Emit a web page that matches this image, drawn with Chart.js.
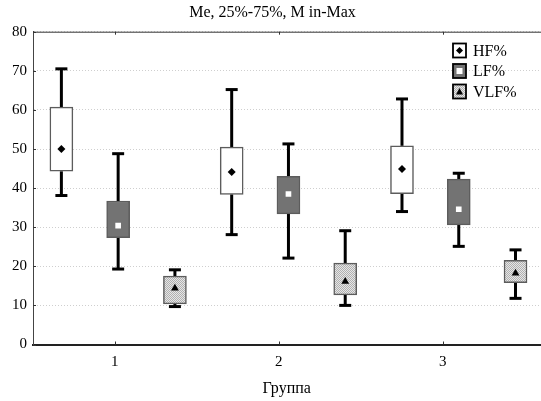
<!DOCTYPE html>
<html>
<head>
<meta charset="utf-8">
<script src="https://cdn.jsdelivr.net/npm/chart.js@4.4.1/dist/chart.umd.min.js"></script>
<style>
  html, body { margin: 0; padding: 0; background: #fff; overflow: hidden; }
  #box { width: 541px; height: 401px; overflow: hidden; }
</style>
</head>
<body>
<div id="box"><canvas id="c" width="545" height="401"></canvas></div>
<script>
// groups on the x axis and the three series
const groups = ['1', '2', '3'];
const seriesNames = ['HF%', 'LF%', 'VLF%'];

// Me, quartiles and range, one value per group
const hfMin = [38.1, 28.1, 34.0];
const hfQ1  = [44.3, 38.4, 38.6];
const hfMed = [50.0, 44.1, 44.9];
const hfQ3  = [60.7, 50.5, 50.8];
const hfMax = [70.5, 65.2, 62.8];

const lfMin = [19.3, 22.1, 25.1];
const lfQ1  = [27.3, 33.4, 30.6];
const lfMed = [30.4, 38.5, 34.6];
const lfQ3  = [36.7, 43.0, 42.3];
const lfMax = [48.8, 51.3, 43.8];

const vlfMin = [9.7, 10.0, 11.8];
const vlfQ1  = [10.4, 12.7, 15.8];
const vlfMed = [14.4, 16.1, 18.2];
const vlfQ3  = [17.5, 20.8, 21.5];
const vlfMax = [19.1, 29.1, 24.2];

const yTicks = [0, 10, 20, 30, 40, 50, 60, 70, 80];

const FONT = "'Liberation Serif', 'DejaVu Serif', serif";
const canvas = document.getElementById('c');
const ctx0 = canvas.getContext('2d');

// speckled light grey fill used by VLF%
function speckle() {
  const p = document.createElement('canvas');
  p.width = 2; p.height = 2;
  const g = p.getContext('2d');
  g.fillStyle = '#e6e6e6'; g.fillRect(0, 0, 2, 2);
  g.fillStyle = '#b0b0b0'; g.fillRect(0, 0, 1, 1); g.fillRect(1, 1, 1, 1);
  return ctx0.createPattern(p, 'repeat');
}

const stats = [
  { min: hfMin, q1: hfQ1, med: hfMed, q3: hfQ3, max: hfMax, fill: '#ffffff', marker: 'rectRot', markerColor: '#000', radius: 4 },
  { min: lfMin, q1: lfQ1, med: lfMed, q3: lfQ3, max: lfMax, fill: '#737373', marker: 'rect', markerColor: '#fff', radius: 4 },
  { min: vlfMin, q1: vlfQ1, med: vlfMed, q3: vlfQ3, max: vlfMax, fill: speckle(), marker: 'triangle', markerColor: '#000', radius: 4.5 }
];

// each box gets its own slot along x
const slotOf = (g, s) => g * stats.length + s + 0.5;
const groupTickSlots = [1.44, 4.33, 7.22];

const boxSets = stats.map((st, s) => ({
  type: 'bar',
  label: seriesNames[s],
  data: groups.map((_, g) => ({ x: slotOf(g, s), y: [st.q1[g], st.q3[g]] })),
  backgroundColor: st.fill,
  borderColor: '#5c5c5c',
  borderWidth: 1.5,
  borderSkipped: false,
  barThickness: 23,
  grouped: false,
  order: 2
}));

const medSets = stats.map((st, s) => ({
  type: 'scatter',
  label: seriesNames[s] + ' Me',
  data: groups.map((_, g) => ({ x: slotOf(g, s), y: st.med[g] })),
  pointStyle: st.marker,
  pointRadius: st.radius,
  backgroundColor: st.markerColor,
  borderColor: st.markerColor,
  borderWidth: 0,
  order: 1
}));

// whiskers from box edges to min / max
const whiskers = {
  id: 'whiskers',
  beforeDatasetsDraw(chart) {
    const { ctx, scales: { x, y } } = chart;
    ctx.save();
    ctx.strokeStyle = '#000';
    ctx.lineWidth = 3;
    stats.forEach((st, s) => groups.forEach((_, g) => {
      const px = x.getPixelForValue(slotOf(g, s));
      const line = (x1, y1, x2, y2) => { ctx.beginPath(); ctx.moveTo(x1, y1); ctx.lineTo(x2, y2); ctx.stroke(); };
      line(px, y.getPixelForValue(st.q3[g]), px, y.getPixelForValue(st.max[g]));
      line(px, y.getPixelForValue(st.q1[g]), px, y.getPixelForValue(st.min[g]));
      [st.max[g], st.min[g]].forEach(v => {
        const py = y.getPixelForValue(v);
        line(px - 6, py, px + 6, py);
      });
    }));
    ctx.restore();
  }
};

// top frame line and the small inward tick marks
const frame = {
  id: 'frame',
  afterDraw(chart) {
    const { ctx, chartArea: a, scales: { x, y } } = chart;
    ctx.save();
    ctx.strokeStyle = '#333';
    ctx.lineWidth = 1;
    ctx.beginPath();
    ctx.moveTo(a.left, a.top + 0.5); ctx.lineTo(chart.width, a.top + 0.5);
    groupTickSlots.forEach(v => {
      const px = Math.round(x.getPixelForValue(v)) + 0.5;
      ctx.moveTo(px, a.top); ctx.lineTo(px, a.top + 3);
      ctx.moveTo(px, a.bottom); ctx.lineTo(px, a.bottom - 3);
    });
    yTicks.forEach(v => {
      const py = Math.round(y.getPixelForValue(v)) + 0.5;
      ctx.moveTo(a.left, py); ctx.lineTo(a.left + 3, py);
    });
    ctx.stroke();
    ctx.restore();
  }
};

// legend box in the upper right corner of the plot
const legendBox = {
  id: 'legendBox',
  afterDraw(chart) {
    const { ctx } = chart;
    ctx.save();
    ctx.font = '16px ' + FONT;
    ctx.textBaseline = 'middle';
    ctx.fillStyle = '#000';
    stats.forEach((st, s) => {
      const cy = 50.5 + s * 20.5;
      const bx = 453, bw = 13, bh = 14;
      ctx.fillStyle = st.fill;
      ctx.fillRect(bx, cy - bh / 2, bw, bh);
      ctx.strokeStyle = '#000';
      ctx.lineWidth = 1.8;
      ctx.strokeRect(bx, cy - bh / 2, bw, bh);
      ctx.fillStyle = st.markerColor;
      const cx = bx + bw / 2;
      ctx.beginPath();
      if (st.marker === 'rectRot') {
        ctx.moveTo(cx, cy - 3.5); ctx.lineTo(cx + 3.5, cy); ctx.lineTo(cx, cy + 3.5); ctx.lineTo(cx - 3.5, cy);
      } else if (st.marker === 'rect') {
        ctx.rect(cx - 3, cy - 3, 6, 6);
      } else {
        ctx.moveTo(cx, cy - 3.5); ctx.lineTo(cx + 3.5, cy + 3); ctx.lineTo(cx - 3.5, cy + 3);
      }
      ctx.closePath();
      ctx.fill();
      ctx.fillStyle = '#000';
      ctx.fillText(seriesNames[s], 473, cy + 1);
    });
    ctx.restore();
  }
};

new Chart(canvas, {
  type: 'bar',
  data: { datasets: [...boxSets, ...medSets] },
  options: {
    responsive: false,
    animation: false,
    layout: { padding: { left: 0, right: 0, top: 0, bottom: 0 } },
    plugins: {
      legend: { display: false },
      tooltip: { enabled: false },
      title: {
        display: true,
        text: 'Me, 25%-75%, M in-Max',
        color: '#000',
        font: { family: FONT, size: 16, weight: 'normal' },
        padding: { top: 3, bottom: 9.5 }
      }
    },
    scales: {
      x: {
        type: 'linear',
        min: 0,
        max: 8.94,
        offset: false,
        afterBuildTicks: scale => { scale.ticks = groupTickSlots.map(v => ({ value: v })); },
        afterFit: scale => { scale.height = 56.5; },
        ticks: {
          color: '#000',
          font: { family: FONT, size: 15 },
          padding: 9,
          maxRotation: 0,
          autoSkip: false,
          callback: (v, i) => groups[i]
        },
        grid: { display: false, drawTicks: false, offset: false },
        border: { display: true, color: '#222', width: 2 },
        title: {
          display: true,
          text: 'Группа',
          color: '#000',
          font: { family: FONT, size: 16 },
          padding: { top: 0, bottom: 3 }
        }
      },
      y: {
        min: 0,
        max: 80,
        afterFit: scale => { scale.width = 33; },
        afterBuildTicks: scale => { scale.ticks = yTicks.map(v => ({ value: v })); },
        ticks: { color: '#000', font: { family: FONT, size: 15 }, padding: 6 },
        grid: { color: '#cfcfcf', lineWidth: 1, drawTicks: false },
        border: { display: true, color: '#444', width: 1, dash: [1, 2] }
      }
    }
  },
  plugins: [whiskers, frame, legendBox]
});
</script>
</body>
</html>
